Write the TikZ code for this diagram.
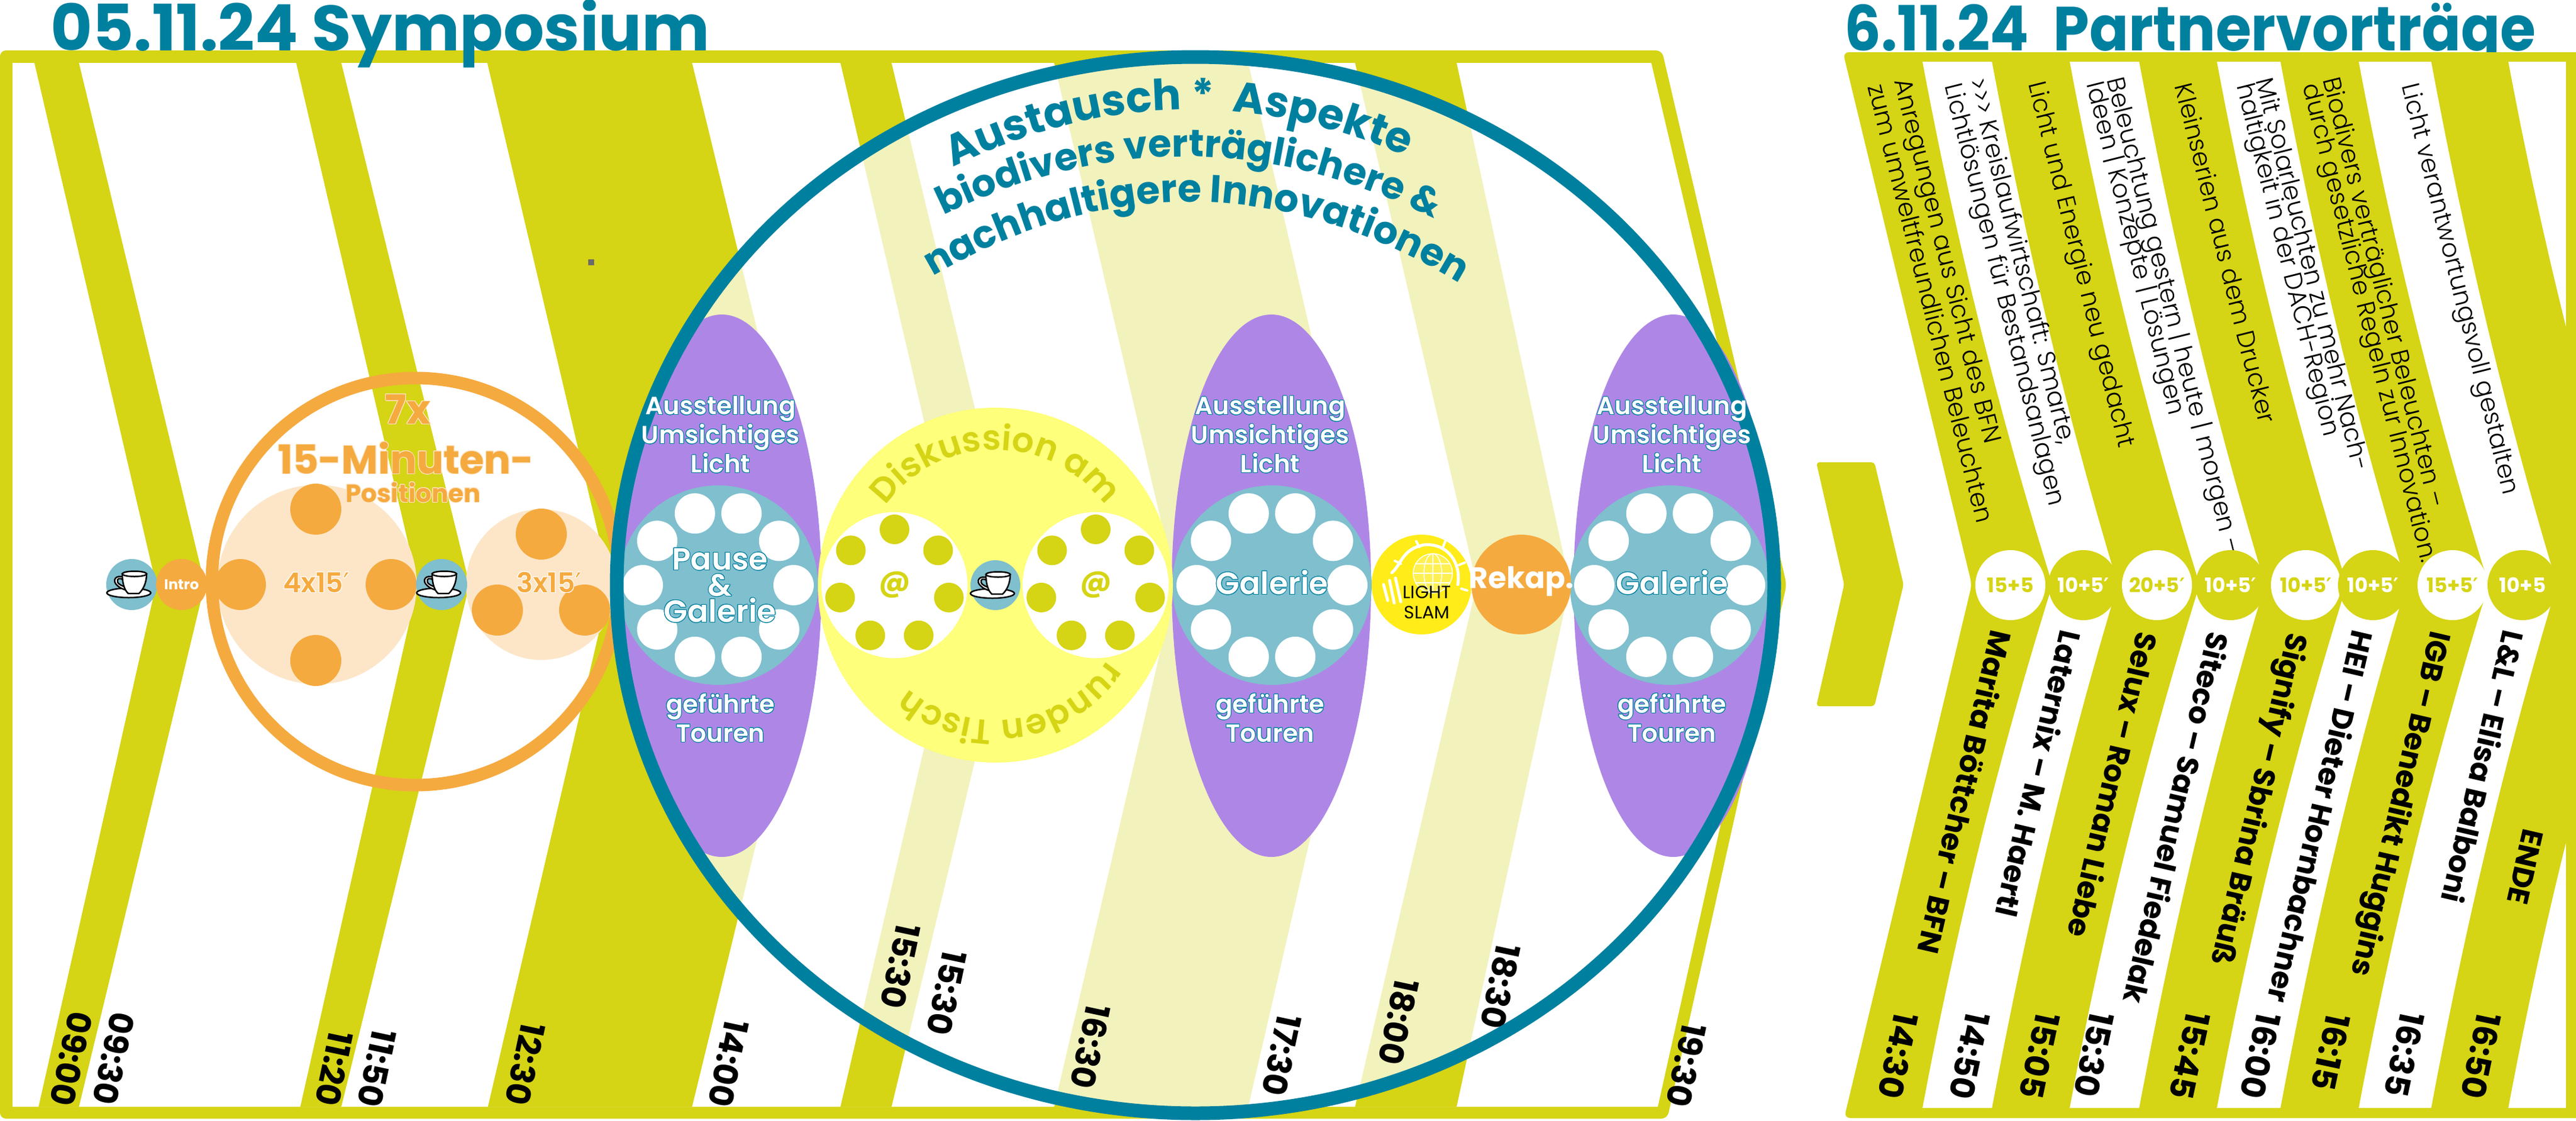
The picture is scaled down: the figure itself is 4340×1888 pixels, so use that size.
\documentclass[tikz,border=0pt]{standalone}
\usepackage{fontspec}
\usepackage{contour}
\usetikzlibrary{decorations.text}
\setmainfont{Poppins}
\newfontfamily\lightfont{Poppins Light}
\newfontfamily\semifont{Poppins SemiBold}
\newfontfamily\primefont{DejaVu Sans}
\newcommand{\minmark}{{\primefont\char"2032}}
\contourlength{1pt}

\definecolor{leaf}{HTML}{D5D415}
\definecolor{ocean}{HTML}{00809F}
\definecolor{lilac}{HTML}{AE87E6}
\definecolor{aqua}{HTML}{7FBFCE}
\definecolor{amber}{HTML}{F5AA3F}
\definecolor{peach}{HTML}{FDE6C8}
\definecolor{lemon}{HTML}{FEFF7A}
\definecolor{sun}{HTML}{FFEC19}

\tikzset{
	every node/.style={inner sep=0pt},
	slottime/.style={font=\bfseries\fontsize{56}{56}\selectfont, rotate=-102},
	speaker/.style={font=\bfseries\fontsize{50}{50}\selectfont, rotate=-103, anchor=west},
	topic/.style={font=\lightfont\fontsize{42}{42}\selectfont, rotate=-76, anchor=west},
	slotbadge/.style={circle, minimum size=118pt, font=\bfseries\fontsize{34}{34}\selectfont},
	roundtext/.style={font=\semifont\fontsize{42}{49}\selectfont, text=white, align=center},
}

% coffee cup, drawn at the centre of a small round
\newcommand{\coffeecup}[1]{
	\begin{scope}[shift={(#1)}, line width=2.5pt]
		\filldraw[fill=white] (-5,14) ellipse [x radius=37, y radius=8];
		\filldraw[fill=white] (-12,-12) .. controls (-28,-18) and (-34,-6) .. (-24,2) .. controls (-20,6) and (-14,8) .. (-8,10) -- (-8,5) .. controls (-18,2) and (-26,-2) .. (-24,-8) .. controls (-22,-12) and (-16,-10) .. (-12,-6) -- cycle;
		\filldraw[fill=white] (-16,-18) .. controls (-16,-2) and (-12,10) .. (-6,15) -- (12,15) .. controls (20,8) and (25,-4) .. (25,-18) -- cycle;
		\filldraw[fill=white] (4.5,-18) ellipse [x radius=20.5, y radius=4.5];
	\end{scope}
}

\begin{document}
\begin{tikzpicture}[x=1pt, y=-1pt]
	\useasboundingbox (0,0) rectangle (4340,1888);

	% first day: frame and time bands
	\fill[leaf, rounded corners=10pt] (0,85) -- (2800,85) -- (3010,985) -- (2809,1885) -- (0,1885) -- cycle;
	\fill[white] (21,106) -- (2782,106) -- (2989,985) -- (2793,1865) -- (21,1865) -- cycle;
	\foreach \xt/\xb/\xl/\xr/\xe in {58/65/263/345/133, 499/506/704/791/575, 821/822/1028/1380/1166, 1416/1416/1621/1714/1502, 1776/1776/1981/2306/2103, 2283/2283/2488/2645/2454}
		\fill[leaf] (\xt,106) -- (\xe,106) -- (\xr,985) -- (\xe,1865) -- (\xb,1865) -- (\xl,985) -- cycle;
	\fill[black!58] (991,437) rectangle (1001,447);

	% morning
	\fill[peach] (534,985) circle [radius=168];
	\fill[peach] (912,985) circle [radius=127];
	\foreach \x/\y in {532/858, 532/1113, 405/985, 659/985, 912/900, 838/1028, 985/1028}
		\fill[amber] (\x,\y) circle [radius=43];
	\draw[amber, line width=21pt] (700,980) circle [radius=343];
	\fill[aqua] (222,985) circle [radius=43];
	\fill[aqua] (744,985) circle [radius=43];
	\coffeecup{222,985}
	\coffeecup{744,985}
	\node[circle, fill=amber, minimum size=86pt, text=white, font=\bfseries\fontsize{24}{24}\selectfont] (intro) at (306,985) {Intro};

	% big round, it pales the bands behind it
	\fill[white, opacity=.714] (2014,986) ellipse [x radius=975, y radius=890];

	\foreach \n/\t/\x/\y in {a/09:00/120/1784, b/09:30/191/1784, c/11:20/563/1801, d/11:50/635/1800, e/12:30/885/1793, f/14:00/1227/1792, g/15:30/1517/1628, h/15:30/1595/1673, i/16:30/1837/1764, j/17:30/2159/1778, k/18:00/2356/1722, l/18:30/2528/1662, m/19:30/2841/1795}
		\node[slottime] (time\n) at (\x,\y) {\t};

	% exhibition ovals
	\foreach \xo/\xc in {1216/1210, 2142/2143, 2819/2813}{
		\fill[lilac] (\xo,987) ellipse [x radius=168, y radius=457];
		\fill[aqua] (\xc,986) circle [radius=168];
		\foreach \a in {0,36,...,324}
			\fill[white] (\xc,986) ++(\a:127) circle [radius=34];
	}

	% discussion
	\fill[lemon] (1677,986) circle [radius=299];
	\foreach \xc in {1507,1846}{
		\fill[white] (\xc,986) circle [radius=123];
		\foreach \n in {0,...,6}
			\fill[leaf] (\xc,986) ++({-90+\n*360/7}:94) circle [radius=25];
		\node[text=leaf, font=\bfseries\fontsize{50}{50}\selectfont] (at\xc) at (\xc,985) {@};
	}
	\fill[aqua] (1677,986) circle [radius=42];
	\coffeecup{1677,986}
	\path[decorate, decoration={text along path, text align=center, text={|\semifont\fontsize{58}{58}\selectfont\color{leaf}|Diskussion am}}]
		(1479.5,872) .. controls (1567,720) and (1787,720) .. (1874.5,872);
	\path[decorate, decoration={text along path, text align=center, text={|\semifont\fontsize{58}{58}\selectfont\color{leaf}|runden Tisch}}]
		(1888,1071) .. controls (1822,1234) and (1605,1264) .. (1497,1126);

	% light slam and recap
	\fill[sun] (2395,985) circle [radius=84];
	\begin{scope}[white, line width=3pt, line cap=round]
		\draw[line width=5pt] (2345,965) .. controls (2362,950) and (2362,925) .. (2400,918) .. controls (2440,915) and (2462,950) .. (2456,985);
		\filldraw[fill=white, fill opacity=.25, line width=1.5pt] (2414,966) circle [radius=33];
		\draw[line width=1.5pt] (2414,933) -- (2414,999) (2381,966) -- (2447,966) (2385,950) -- (2443,950) (2385,982) -- (2443,982);
		\draw[line width=1.5pt] (2414,966) ellipse [x radius=15, y radius=33];
		\draw[line width=5pt] (2331,985) -- (2338,1012) (2341,978) -- (2349,1016) (2351,974) -- (2360,1014);
		\draw[line width=4pt] (2350,945) -- (2360,950) (2386,912) -- (2391,922) (2435,912) -- (2431,922) (2468,948) -- (2458,952) (2472,995) -- (2462,992);
	\end{scope}
	\node[font=\fontsize{30}{34}\selectfont, align=center] (slam) at (2404,1015) {LIGHT\\SLAM};
	\fill[amber] (2563,985) circle [radius=84];

	% rim of the big round
	\draw[ocean, line width=23pt] (2014,986) ellipse [x radius=975, y radius=890];

	\node[text=white, font=\bfseries\fontsize{50}{50}\selectfont] (recap) at (2563,980) {Rekap.};

	\foreach \x in {1214,2140,2817}{
		\node[roundtext] (show\x) at (\x,733) {\contour{ocean}{Ausstellung}\\\contour{ocean}{Umsichtiges}\\\contour{ocean}{Licht}};
		\node[roundtext] (tour\x) at (\x,1210) {\contour{ocean}{geführte}\\\contour{ocean}{Touren}};
	}
	\node[roundtext, font=\semifont\fontsize{52}{44}\selectfont] (pause) at (1213,987) {\contour{ocean}{Pause}\\\contour{ocean}{\&}\\\contour{ocean}{Galerie}};
	\node[roundtext, font=\semifont\fontsize{52}{60}\selectfont] (gallery1) at (2143,982) {\contour{ocean}{Galerie}};
	\node[roundtext, font=\semifont\fontsize{52}{60}\selectfont] (gallery2) at (2817,982) {\contour{ocean}{Galerie}};

	% morning texts
	\node[text=amber, font=\bfseries\fontsize{68}{68}\selectfont] (seven) at (687,690) {\contour{peach}{7x}};
	\node[text=amber, font=\bfseries\fontsize{67}{67}\selectfont] (minutes) at (684,772) {\contour{peach}{15-Minuten-}};
	\node[text=amber, font=\bfseries\fontsize{42}{42}\selectfont] (positions) at (696,830) {\contour{peach}{Positionen}};
	\node[text=amber, font=\semifont\fontsize{46}{46}\selectfont] (four) at (533,982) {\contour{white}{4x15\minmark}};
	\node[text=amber, font=\semifont\fontsize{46}{46}\selectfont] (three) at (925,982) {\contour{white}{3x15\minmark}};

	% arc headline
	\path[decorate, decoration={text along path, text align=center, text={|\bfseries\fontsize{72}{72}\selectfont\color{ocean}|Austausch *{\ } Aspekte}}]
		(1570,300) .. controls (1850,150) and (2130,150) .. (2405,280);
	\path[decorate, decoration={text along path, text align=center, text={|\bfseries\fontsize{64}{64}\selectfont\color{ocean}|biodivers verträglichere {\&}}}]
		(1560,378) .. controls (1850,225) and (2150,225) .. (2445,384);
	\path[decorate, decoration={text along path, text align=center, text={|\bfseries\fontsize{65}{65}\selectfont\color{ocean}|nachhaltigere Innovationen}}]
		(1540,485) .. controls (1850,290) and (2170,290) .. (2490,497);

	% titles
	\node[anchor=base west, text=ocean, font=\bfseries\fontsize{108}{108}\selectfont] (dayone) at (85,85) {05.11.24 Symposium};
	\node[anchor=base west, text=ocean, font=\bfseries\fontsize{105}{105}\selectfont] (daytwo) at (3107,85) {\scalebox{.926}[1]{6.11.24\ \ Partnervorträge}};

	% arrow between the days
	\fill[leaf, rounded corners=5pt] (3060,779) -- (3158,779) -- (3207,985) -- (3158,1190) -- (3060,1190) -- (3107,985) -- cycle;

	% second day
	\fill[leaf, rounded corners=10pt] (3105,88) -- (4350,88) -- (4350,1884) -- (3107,1884) -- (3322,985) -- cycle;
	\begin{scope}
		\clip (3105,104) rectangle (4323,1867);
		\foreach \xa/\xb in {3239/3356, 3487/3604, 3735/3842, 3974/4096, 4226/4345}
			\fill[white] (\xa,104) .. controls ({\xa+55},398) and ({\xa+127},691) .. ({\xa+219},985)
				.. controls ({\xa+127},1279) and ({\xa+55},1573) .. (\xa,1867) -- (\xb,1867)
				.. controls ({\xb+55},1573) and ({\xb+123},1279) .. ({\xb+212},985)
				.. controls ({\xb+123},691) and ({\xb+55},398) .. (\xb,104) -- cycle;
	\end{scope}

	\node[topic] (t1a) at (3201,134) {Anregungen aus Sicht des BFN};
	\node[topic] (t1b) at (3162,142) {zum umweltfreundlichen Beleuchten};
	\node[topic] (t2a) at (3329,132) {>{}>{}> Kreislaufwirtschaft: Smarte,};
	\node[topic] (t2b) at (3286,142) {Lichtlösungen für Bestandsanlagen};
	\node[topic] (t3) at (3427,139) {Licht und Energie neu gedacht};
	\node[topic] (t4a) at (3560,132) {Beleuchtung gestern | heute | morgen –};
	\node[topic] (t4b) at (3526,139) {Ideen | Konzepte | Lösungen};
	\node[topic] (t5) at (3679,141) {Kleinserien aus dem Drucker};
	\node[topic] (t6a) at (3816,132) {Mit Solarleuchten zu mehr Nach-};
	\node[topic] (t6b) at (3778,142) {haltigkeit in der DACH-Region};
	\node[topic] (t7a) at (3923,132) {Biodivers verträglicher Beleuchten –};
	\node[topic] (t7b) at (3889,142) {durch gesetzliche Regeln zur Innovation.};
	\node[topic] (t8) at (4056,142) {Licht verantwortungsvoll gestalten};

	\foreach \x/\t/\f/\c in {3387/15+5/white/leaf, 3510/10+5\minmark/leaf/white, 3634/20+5\minmark/white/leaf, 3758/10+5\minmark/leaf/white, 3885/10+5\minmark/white/leaf, 3998/10+5\minmark/leaf/white, 4132/15+5\minmark/white/leaf, 4250/10+5/leaf/white}
		\node[slotbadge, fill=\f, text=\c] (badge\x) at (\x,986) {\t};

	\node[speaker] (s1) at (3374,1064) {Marita Böttcher – BFN};
	\node[speaker] (s2) at (3491,1064) {Laternix – M. Haertl};
	\node[speaker] (s3) at (3620,1067) {Selux – Roman Liebe};
	\node[speaker] (s4) at (3740,1067) {Siteco – Samuel Fiedelak};
	\node[speaker] (s5) at (3867,1067) {Signify – Sbrina Bräuß};
	\node[speaker] (s6) at (3983,1064) {HEI – Dieter Hornbachner};
	\node[speaker] (s7) at (4108,1064) {IGB – Benedikt Huggins};
	\node[speaker] (s8) at (4237,1064) {L\&L – Elisa Balboni};
	\node[speaker] (s9) at (4269,1398) {ENDE};

	\foreach \n/\t/\x/\y in {a/14:30/3198/1779, b/14:50/3318/1779, c/15:05/3436/1779, d/15:30/3528/1777, e/15:45/3689/1779, f/16:00/3808/1779, g/16:15/3927/1773, h/16:35/4051/1777, i/16:50/4180/1779}
		\node[slottime] (talk\n) at (\x,\y) {\t};
\end{tikzpicture}
\end{document}
